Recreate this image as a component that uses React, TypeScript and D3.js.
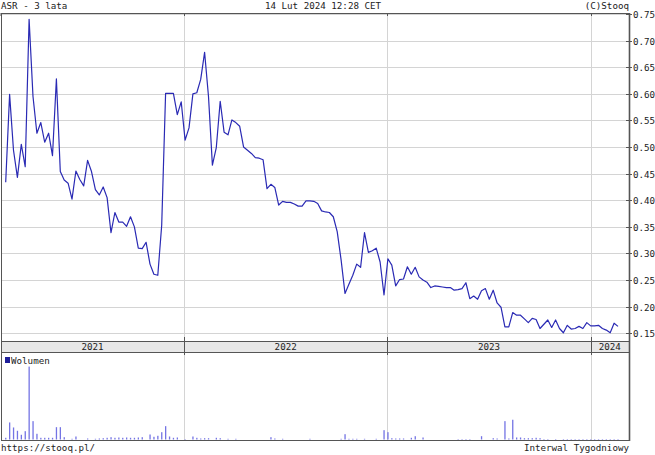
import React from "react";
import * as d3 from "d3";

// Weekly closing prices of ASR (3 years, weekly interval)
const firstWeek = new Date(2021, 1, 15);
const prices: number[] = [
  0.434, 0.599, 0.494, 0.443, 0.505, 0.463, 0.740, 0.595, 0.526, 0.546,
  0.509, 0.526, 0.484, 0.628, 0.454, 0.438, 0.432, 0.402, 0.455, 0.439,
  0.427, 0.475, 0.454, 0.420, 0.410, 0.425, 0.405, 0.339, 0.377, 0.359,
  0.359, 0.351, 0.369, 0.350, 0.310, 0.309, 0.321, 0.280, 0.261, 0.259,
  0.353, 0.601, 0.601, 0.601, 0.561, 0.585, 0.513, 0.536, 0.600, 0.602,
  0.627, 0.678, 0.595, 0.466, 0.499, 0.586, 0.528, 0.523, 0.551, 0.546,
  0.539, 0.500, 0.494, 0.488, 0.480, 0.479, 0.476, 0.422, 0.430, 0.424,
  0.391, 0.398, 0.396, 0.396, 0.393, 0.389, 0.389, 0.399, 0.399, 0.398,
  0.394, 0.380, 0.378, 0.377, 0.369, 0.341, 0.288, 0.225, 0.242, 0.259,
  0.280, 0.274, 0.339, 0.302, 0.305, 0.310, 0.284, 0.222, 0.290, 0.278,
  0.239, 0.251, 0.252, 0.275, 0.261, 0.274, 0.256, 0.250, 0.246, 0.236,
  0.239, 0.238, 0.237, 0.236, 0.236, 0.231, 0.232, 0.234, 0.245, 0.215,
  0.220, 0.214, 0.230, 0.234, 0.214, 0.231, 0.207, 0.199, 0.162, 0.162,
  0.189, 0.184, 0.184, 0.177, 0.170, 0.178, 0.176, 0.159, 0.167, 0.175,
  0.161, 0.175, 0.159, 0.151, 0.165, 0.158, 0.159, 0.163, 0.159, 0.170,
  0.164, 0.164, 0.165, 0.159, 0.156, 0.151, 0.169, 0.163,
];

// Weekly volume (relative units)
const volumes: number[] = [
  17, 170, 120, 87, 47, 83, 727, 183, 57, 17,
  17, 17, 17, 123, 123, 23, 0, 7, 30, 0,
  0, 10, 0, 7, 10, 13, 17, 23, 17, 20,
  17, 20, 17, 17, 20, 23, 0, 50, 27, 37,
  73, 133, 30, 17, 20, 0, 5, 0, 30, 17,
  10, 13, 13, 0, 17, 13, 0, 7, 0, 7,
  0, 0, 0, 0, 0, 0, 0, 0, 23, 10,
  0, 7, 0, 0, 0, 0, 0, 0, 7, 0,
  0, 0, 0, 0, 0, 0, 7, 53, 7, 7,
  7, 0, 7, 0, 0, 7, 0, 93, 73, 13,
  10, 10, 10, 0, 17, 33, 0, 20, 0, 0,
  0, 0, 0, 0, 0, 0, 5, 5, 5, 5,
  0, 0, 33, 0, 0, 13, 10, 0, 183, 10,
  197, 20, 20, 13, 13, 13, 17, 13, 5, 5,
  0, 5, 0, 5, 5, 5, 5, 5, 5, 5,
  5, 5, 5, 5, 5, 5, 5, 5,
];

const yTicks: number[] = [0.15, 0.2, 0.25, 0.3, 0.35, 0.4, 0.45, 0.5, 0.55, 0.6, 0.65, 0.7, 0.75];

const titleLeft = "ASR - 3 lata";
const titleCenter = "14 Lut 2024 12:28 CET";
const titleRight = "(C)Stooq";
const volumeLabel = "Wolumen";
const footerLeft = "https://stooq.pl/";
const footerRight = "Interwal Tygodniowy";

const W = 655;
const H = 455;
const FONT = "'DejaVu Sans Mono', monospace";
const FS = 9.2;

export default function App() {
  const dates = prices.map((_, i) => d3.timeWeek.offset(firstWeek, i));
  const left = 1;
  const right = 629;
  const plotTop = 13;
  const plotBottom = 341;
  const bandBottom = 352;
  const volBottom = 440;

  const x = d3.scaleTime().domain([dates[0], dates[dates.length - 1]]).range([5.7, 618]);
  const y = d3.scaleLinear().domain([0.15, 0.75]).range([333.3, 14]);
  const vMax = (d3.max(volumes) || 1) * 1.2;
  const yv = d3.scaleLinear().domain([0, vMax]).range([volBottom - 0.5, bandBottom]);

  const line = d3
    .line<number>()
    .x((_, i) => x(dates[i]))
    .y((d) => y(d));

  const yearStarts = d3.timeYear.range(d3.timeYear.ceil(dates[0]), dates[dates.length - 1]);
  const bounds = [left, ...yearStarts.map((d) => x(d)), right];
  const yearLabels = [d3.timeYear.floor(dates[0]), ...yearStarts].map((d) => d3.timeFormat("%Y")(d));

  const grid = "#d4d4d4";
  const frame = "#555";
  const text = "#222";

  return (
    <svg
      width={W}
      height={H}
      style={{ position: "absolute", left: 0, top: 0, display: "block", background: "#fff" }}
      fontFamily={FONT}
      fontSize={FS}
    >
      {/* header */}
      <text x={1} y={9} fill={text}>{titleLeft}</text>
      <text x={323} y={9} fill={text} textAnchor="middle">{titleCenter}</text>
      <text x={right} y={9} fill={text} textAnchor="end">{titleRight}</text>

      {/* horizontal gridlines */}
      {yTicks.map((t) => (
        <line key={"g" + t} x1={left + 1} x2={right} y1={Math.round(y(t)) + 0.5} y2={Math.round(y(t)) + 0.5} stroke={grid} strokeWidth={1} />
      ))}

      {/* vertical year gridlines */}
      {yearStarts.map((d, i) => {
        const xx = Math.round(x(d)) + 0.5;
        return (
          <g key={"v" + i}>
            <line x1={xx} x2={xx} y1={plotTop} y2={plotBottom} stroke={grid} />
            <line x1={xx} x2={xx} y1={bandBottom} y2={volBottom} stroke={grid} />
            <line x1={xx} x2={xx} y1={plotTop} y2={plotTop + 3} stroke={frame} />
            <line x1={xx} x2={xx} y1={plotBottom - 4} y2={plotBottom} stroke={frame} />
            <line x1={xx} x2={xx} y1={plotBottom} y2={bandBottom} stroke={frame} />
            <line x1={xx} x2={xx} y1={bandBottom} y2={bandBottom + 3} stroke={frame} />
          </g>
        );
      })}

      {/* year band */}
      <rect x={left} y={plotBottom} width={right - left} height={bandBottom - plotBottom} fill="#e8e8e8" />
      <line x1={left} x2={right} y1={plotBottom + 0.5} y2={plotBottom + 0.5} stroke={frame} />
      <line x1={left} x2={right} y1={bandBottom + 0.5} y2={bandBottom + 0.5} stroke={frame} />
      {yearStarts.map((d, i) => {
        const xx = Math.round(x(d)) + 0.5;
        return <line key={"bs" + i} x1={xx} x2={xx} y1={plotBottom} y2={bandBottom} stroke={frame} />;
      })}
      {yearLabels.map((lab, i) => (
        <text key={"yl" + lab} x={(bounds[i] + bounds[i + 1]) / 2} y={plotBottom + 9} textAnchor="middle" fill={text}>
          {lab}
        </text>
      ))}

      {/* price line */}
      <path d={line(prices) || ""} fill="none" stroke="#2a2ab4" strokeWidth={1.2} strokeLinejoin="round" />

      {/* volume bars */}
      {volumes.map((v, i) =>
        v > 0 ? (
          <rect
            key={"vb" + i}
            x={x(dates[i]) - 0.6}
            y={yv(v)}
            width={1.3}
            height={yv(0) - yv(v)}
            fill="#7474e4"
          />
        ) : null
      )}
      <rect x={5} y={357} width={5} height={6} fill="#1e1e9a" />
      <text x={11} y={363.5} fill={text}>{volumeLabel}</text>

      {/* frame */}
      <line x1={left} x2={right} y1={plotTop + 0.5} y2={plotTop + 0.5} stroke={frame} />
      <line x1={left + 0.5} x2={left + 0.5} y1={plotTop} y2={volBottom} stroke={frame} />
      <line x1={left} x2={left} y1={plotTop} y2={plotTop + 3} stroke={frame} />
      <line x1={left} x2={right} y1={volBottom + 0.5} y2={volBottom + 0.5} stroke={frame} />
      <line x1={right + 0.5} x2={right + 0.5} y1={plotTop} y2={volBottom + 1} stroke={frame} strokeWidth={1.6} />

      {/* right axis ticks and labels */}
      {yTicks.map((t) => {
        const yy = Math.round(y(t)) + 0.5;
        return (
          <g key={"t" + t}>
            <line x1={right - 3} x2={right + 3} y1={yy} y2={yy} stroke={frame} />
            <text x={right + 4} y={yy + 3.3} fill={text}>{d3.format(".2f")(t)}</text>
          </g>
        );
      })}

      {/* footer */}
      <text x={1} y={451} fill={text}>{footerLeft}</text>
      <text x={right} y={451} fill={text} textAnchor="end">{footerRight}</text>
    </svg>
  );
}
